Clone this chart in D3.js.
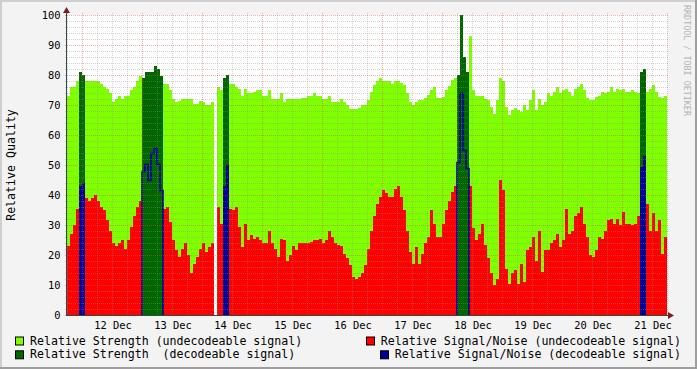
<!DOCTYPE html>
<html>
<head>
<meta charset="utf-8">
<script src="https://cdn.jsdelivr.net/npm/d3@7"></script>
<style>
  body { margin: 0; background: #f3f3f3; }
  svg { display: block; font-family: 'DejaVu Sans Mono', monospace; }
</style>
</head>
<body>
<svg></svg>
<script>
// one sample every 72 minutes, 11 Dec 18:00 -> 21 Dec 18:00
let strength = [
  73, 76, 76, 78, 81, 80, 78, 78, 78, 78,
  78, 77, 76, 75.5, 74, 71, 72, 73, 72, 73,
  73, 75, 76, 78, 79.5, 79, 81, 81, 81, 83,
  82, 79.5, 77, 77, 75, 72, 71, 71.5, 72, 72,
  72, 72, 70.5, 70.5, 71.5, 71, 70, 70, 71, null,
  76, 75, 79, 80, 77, 77, 76, 75.5, 73, 75.5,
  74, 74, 74.5, 75, 75, 73, 73, 75, 72, 72,
  72, 74, 71, 72, 72, 72, 72, 72, 72.5, 72.5,
  73, 73, 74, 73, 73, 72, 72, 73, 71, 71,
  71, 72, 71, 70, 68.5, 68.5, 68.5, 69, 70, 70,
  71.7, 74.5, 76.7, 78, 79, 78, 78, 78, 77, 78,
  78, 77.5, 76.7, 74, 71, 70, 71, 71.7, 71.7, 72.2,
  73.3, 75, 76, 72.5, 72.2, 72.8, 75, 76.3, 78.3, 79,
  80, 100, 86, 81, 93, 75, 73, 73, 73, 72,
  71.7, 69.5, 67, 71.7, 79, 78, 69.5, 66.7, 68.3, 69,
  68.3, 67.8, 70, 68.3, 71.7, 75, 68.3, 72, 70, 71,
  74, 73, 74.5, 76, 74, 75, 75.5, 74.5, 73, 75.5,
  76, 77, 75, 72.5, 71.7, 71.7, 72.8, 73, 74.5, 74,
  74.5, 76, 74.5, 75.5, 75, 75.5, 74.5, 74.5, 75, 74.5,
  74, 81, 82, 74.5, 75.5, 76.7, 74.5, 72.8, 72.5, 73
]

let snr = [
  23, 27, 30, 35.5, 43, 44, 39, 38, 39, 40,
  38, 36, 35, 31.7, 28, 24, 23, 24, 25, 22,
  25, 29.5, 33, 36, 38, 48, 50.5, 45, 54, 55.5,
  50.5, 41.7, 35.5, 36, 31, 25, 21.7, 19.5, 22, 24,
  20, 14, 17, 19.5, 22, 24, 21, 22.8, 24, null,
  36, 30.5, 43, 50, 35.5, 35, 36, 29.5, 22.8, 30.5,
  25, 26.7, 25.5, 26, 25, 24, 24, 28, 24, 22,
  19.5, 25.5, 25, 18, 20, 23, 21.7, 24, 24, 24,
  24, 24.5, 25, 25, 25.5, 24, 25, 28, 26, 24,
  23.3, 23, 20.5, 19, 16.7, 12.8, 12, 12.8, 14, 16.7,
  22, 28, 33, 37, 39.5, 41.7, 40.8, 39.5, 39.5, 42,
  43, 39.5, 35, 28, 21, 17, 22.8, 17, 20.5, 24,
  26, 35, 30.5, 26, 26, 30.5, 35, 38, 41, 43,
  51, 74, 55, 49, 43, 29, 25, 27, 30.5, 23.3,
  19, 14, 10, 12, 45, 41.7, 15.5, 10.5, 14, 15,
  10.5, 17, 11, 21.7, 22.8, 26, 18, 28, 14.5, 21.7,
  21.7, 24, 25, 27, 22.8, 25, 35.5, 27, 28, 33,
  34, 36, 30.5, 26, 20, 19.5, 21.7, 26, 25.5, 28,
  31.7, 32, 30.5, 32, 30, 34.5, 30.5, 30.5, 30, 30.5,
  33, 49.5, 53, 37, 28, 34, 28, 31.7, 20.5, 26
]

// samples where the signal could be decoded
let decoded = [4, 5, 25, 26, 27, 28, 29, 30, 31, 52, 53, 130, 131, 132, 133, 191, 192]

let yTicks = [0, 10, 20, 30, 40, 50, 60, 70, 80, 90, 100]

let legendLeft = ['Relative Strength (undecodeable signal)', 'Relative Strength  (decodeable signal)']
let legendRight = ['Relative Signal/Noise (undecodeable signal)', 'Relative Signal/Noise (decodeable signal)']

let width = 697
let height = 369

let startTime = new Date(2009, 11, 11, 18, 0)
let endTime = new Date(2009, 11, 21, 18, 0)
let stepMs = 72 * 60000
let timeAt = (i) => new Date(startTime.getTime() + i * stepMs)

let isDecoded = (i) => decoded.indexOf(i) >= 0

let svg = d3.select('svg').attr('width', width).attr('height', height)

let xScale = d3.scaleTime().domain([startTime, endTime]).range([67, 667])
let yScale = d3.scaleLinear().domain([0, 100]).range([315, 15])

// frame
svg.append('rect').attr('width', width).attr('height', height).attr('fill', '#f3f3f3')
svg.append('rect').attr('x', 0).attr('y', 0).attr('width', width).attr('height', 2).attr('fill', '#cfcfcf')
svg.append('rect').attr('x', 0).attr('y', 0).attr('width', 2).attr('height', height).attr('fill', '#cfcfcf')
svg.append('rect').attr('x', 0).attr('y', height - 2).attr('width', width).attr('height', 2).attr('fill', '#9e9e9e')
svg.append('rect').attr('x', width - 2).attr('y', 0).attr('width', 2).attr('height', height).attr('fill', '#9e9e9e')

// canvas
svg.append('rect').attr('x', 67).attr('y', 15).attr('width', 600).attr('height', 300).attr('fill', '#ffffff')

// turn a series into step points, keeping only samples that pass keep()
let stepPoints = (vals, keep) => {
  let pts = []
  vals.forEach((v, i) => {
    let ok = v != null && keep(i)
    pts.push({ t: timeAt(i), v: ok ? v : null })
    pts.push({ t: timeAt(i + 1), v: ok ? v : null })
  })
  return pts
}

let area = d3.area()
  .defined((d) => d.v != null)
  .x((d) => xScale(d.t))
  .y0(yScale(0))
  .y1((d) => Math.round(yScale(d.v)))

let drawArea = (vals, keep, color) => {
  svg.append('path')
    .datum(stepPoints(vals, keep))
    .attr('d', area)
    .attr('fill', color)
    .attr('shape-rendering', 'crispEdges')
}

drawArea(strength, (i) => !isDecoded(i), '#80ff00')
drawArea(strength, (i) => isDecoded(i), '#006600')
drawArea(snr, (i) => !isDecoded(i), '#ff0000')

// decodeable signal/noise: short runs filled, long runs outlined
let runs = []
decoded.forEach((i) => {
  let last = runs[runs.length - 1]
  if (last && last[1] === i - 1) last[1] = i
  else runs.push([i, i])
})

let line = d3.line()
  .x((d) => xScale(d.t))
  .y((d) => Math.round(yScale(d.v)) + 0.5)

runs.forEach(([a, b]) => {
  if (b - a < 2) {
    drawArea(snr, (i) => i >= a && i <= b, '#000099')
  } else {
    let pts = [{ t: timeAt(a), v: 0 }]
    for (let i = a; i <= b; i++) {
      pts.push({ t: timeAt(i), v: snr[i] })
      pts.push({ t: timeAt(i + 1), v: snr[i] })
    }
    pts.push({ t: timeAt(b + 1), v: 0 })
    svg.append('path')
      .datum(pts)
      .attr('d', line)
      .attr('fill', 'none')
      .attr('stroke', '#000099')
      .attr('stroke-width', 1.6)
  }
})

// grid
let minorY = d3.range(0, 101, 2)
svg.append('g').selectAll('line')
  .data(minorY.filter((v) => v % 10 !== 0))
  .enter().append('line')
  .attr('x1', 65).attr('x2', 669)
  .attr('y1', (v) => yScale(v) + 0.5).attr('y2', (v) => yScale(v) + 0.5)
  .attr('stroke', 'rgba(143,143,143,0.4)')
  .attr('stroke-dasharray', '1,1')

let minorX = xScale.ticks(d3.timeHour.every(6)).filter((d) => d.getHours() !== 0)
svg.append('g').selectAll('line')
  .data(minorX)
  .enter().append('line')
  .attr('x1', (d) => xScale(d) + 0.5).attr('x2', (d) => xScale(d) + 0.5)
  .attr('y1', 13).attr('y2', 317)
  .attr('stroke', 'rgba(143,143,143,0.4)')
  .attr('stroke-dasharray', '1,1')

svg.append('g').selectAll('line')
  .data(yTicks)
  .enter().append('line')
  .attr('x1', 65).attr('x2', 669)
  .attr('y1', (v) => yScale(v) + 0.5).attr('y2', (v) => yScale(v) + 0.5)
  .attr('stroke', 'rgba(222,80,80,0.45)')
  .attr('stroke-dasharray', '1,1')

let days = xScale.ticks(d3.timeDay.every(1))
svg.append('g').selectAll('line')
  .data(days)
  .enter().append('line')
  .attr('x1', (d) => xScale(d) + 0.5).attr('x2', (d) => xScale(d) + 0.5)
  .attr('y1', 13).attr('y2', 317)
  .attr('stroke', 'rgba(222,80,80,0.45)')
  .attr('stroke-dasharray', '1,1')

// axes
svg.append('line').attr('x1', 67).attr('x2', 669).attr('y1', 315.5).attr('y2', 315.5)
  .attr('stroke', '#2c4d43')
svg.append('line').attr('x1', 66.5).attr('x2', 66.5).attr('y1', 316).attr('y2', 12)
  .attr('stroke', '#2c4d43')
svg.append('path').attr('d', 'M668,312 L674,315.5 L668,319 Z').attr('fill', '#7f1f1f')
svg.append('path').attr('d', 'M63,13 L66.5,7 L70,13 Z').attr('fill', '#7f1f1f')

// tick labels
svg.append('g').selectAll('text')
  .data(yTicks)
  .enter().append('text')
  .attr('x', 60.5)
  .attr('y', (v) => yScale(v) + 3.8)
  .attr('text-anchor', 'end')
  .attr('font-size', '10.4px')
  .attr('fill', '#000')
  .text((v) => v)

let noon = days.map((d) => d3.timeHour.offset(d, 12)).filter((d) => d < endTime)
svg.append('g').selectAll('text')
  .data(noon)
  .enter().append('text')
  .attr('x', (d) => xScale(d) + 1)
  .attr('y', 328.5)
  .attr('text-anchor', 'middle')
  .attr('font-size', '10.4px')
  .attr('fill', '#000')
  .text((d) => d3.timeFormat('%d %b')(d))

// axis title and watermark
svg.append('text')
  .attr('transform', 'translate(15,165) rotate(-90)')
  .attr('text-anchor', 'middle')
  .attr('font-size', '11.6px')
  .attr('fill', '#000')
  .text('Relative Quality')

svg.append('text')
  .attr('transform', 'translate(684,5) rotate(90)')
  .attr('font-size', '8.4px')
  .attr('fill', '#b4b4b4')
  .text('RRDTOOL / TOBI OETIKER')

// legend
let colorsLeft = ['#80ff00', '#006600']
let colorsRight = ['#ff0000', '#000099']
let rowY = [344.5, 358.3]

legendLeft.forEach((label, k) => {
  svg.append('rect').attr('x', 15.5).attr('y', rowY[k] - 7.5).attr('width', 8).attr('height', 8)
    .attr('fill', colorsLeft[k]).attr('stroke', '#000')
  svg.append('text').attr('x', 30).attr('y', rowY[k])
    .attr('font-size', '11.6px').attr('fill', '#000')
    .attr('xml:space', 'preserve').style('white-space', 'pre')
    .text(label)
})

legendRight.forEach((label, k) => {
  let txt = svg.append('text').attr('x', 681).attr('y', rowY[k])
    .attr('text-anchor', 'end')
    .attr('font-size', '11.6px').attr('fill', '#000')
    .style('white-space', 'pre')
    .text(label)
  let w = txt.node().getComputedTextLength()
  svg.append('rect').attr('x', Math.round(681 - w - 15) + 0.5).attr('y', rowY[k] - 7.5).attr('width', 8).attr('height', 8)
    .attr('fill', colorsRight[k]).attr('stroke', '#000')
})
</script>
</body>
</html>
